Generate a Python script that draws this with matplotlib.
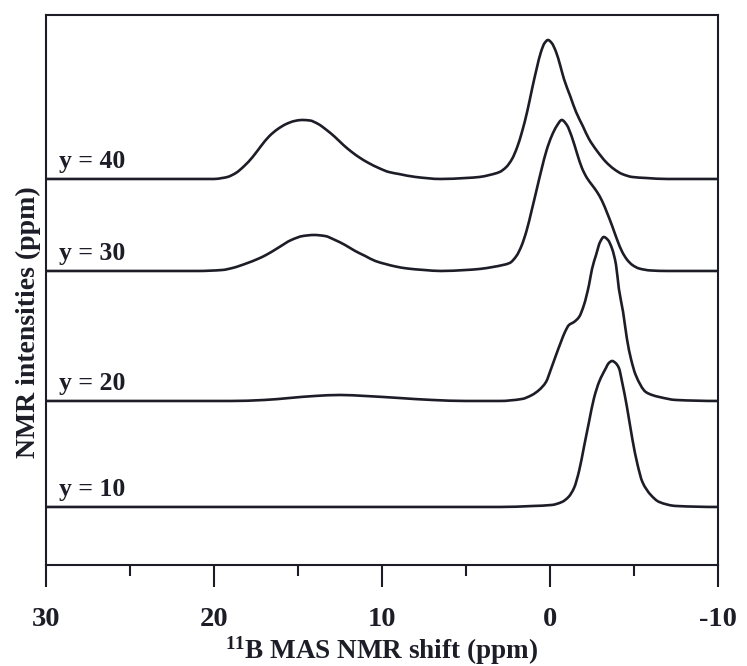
import matplotlib
matplotlib.use('Agg')
import matplotlib.pyplot as plt
from matplotlib.path import Path
from matplotlib.patches import PathPatch
from matplotlib.ticker import FixedLocator

# 11B MAS NMR spectra, stacked by composition (intensity in arbitrary units above each baseline)
labels = ['y = 10', 'y = 20', 'y = 30', 'y = 40']
offsets = [0.58, 1.64, 2.94, 3.86]

shift10 = [30, 10, 3, 1.0, -0.1, -0.71, -1.1, -1.43, -1.73, -2.02, -2.32, -2.62, -2.92,
           -3.33, -3.5, -3.7, -3.9, -4.1, -4.29, -4.58, -4.9, -5.2, -5.5, -6.0, -6.5, -7.5, -10]
int10 = [0, 0, 0, 0.01, 0.02, 0.05, 0.10, 0.19, 0.36, 0.60, 0.85, 1.09, 1.25,
         1.39, 1.44, 1.46, 1.44, 1.39, 1.25, 1.0, 0.68, 0.43, 0.25, 0.12, 0.05, 0.01, 0]

shift20 = [30, 19, 17, 15.5, 14, 12.5, 11, 9, 7, 5, 3, 1.67, 1.07, 0.65, 0.24, -0.06, -0.36,
           -0.65, -0.89, -1.13, -1.43, -1.73, -2.02, -2.32, -2.5, -2.74, -2.98, -3.2, -3.45,
           -3.7, -3.93, -4.1, -4.35, -4.58, -4.82, -5.1, -5.7, -6.07, -6.5, -7.5, -10]
int20 = [0, 0, 0.01, 0.03, 0.05, 0.06, 0.05, 0.03, 0.01, 0, 0, 0.02, 0.06, 0.11, 0.19, 0.32, 0.46,
         0.59, 0.69, 0.76, 0.79, 0.84, 0.96, 1.16, 1.32, 1.46, 1.59, 1.64, 1.61,
         1.52, 1.36, 1.12, 0.89, 0.62, 0.42, 0.26, 0.09, 0.06, 0.04, 0.01, 0]

shift30 = [30, 21, 19.5, 18.9, 18.0, 17.4, 16.9, 16.2, 15.4, 14.7, 14.05, 13.4, 12.8, 12.2,
           11.6, 11.0, 10.4, 9.8, 9.2, 8.5, 7.5, 6.5, 5.0, 4.2, 3.4, 2.8, 2.4, 2.0, 1.7, 1.4,
           1.1, 0.8, 0.5, 0.2, -0.1, -0.4, -0.7, -1.0, -1.3, -1.6, -1.9, -2.2, -2.5, -2.8,
           -3.1, -3.4, -3.7, -4.0, -4.3, -4.6, -4.9, -5.3, -6.0, -7, -10]
int30 = [0, 0, 0.01, 0.03, 0.08, 0.12, 0.16, 0.23, 0.31, 0.35, 0.36, 0.35, 0.31, 0.26,
         0.20, 0.15, 0.10, 0.07, 0.045, 0.025, 0.01, 0, 0.01, 0.02, 0.04, 0.06, 0.08, 0.15,
         0.25, 0.40, 0.60, 0.81, 1.02, 1.21, 1.35, 1.45, 1.51, 1.46, 1.34, 1.18, 1.03, 0.93,
         0.86, 0.79, 0.70, 0.58, 0.45, 0.31, 0.19, 0.11, 0.06, 0.025, 0.005, 0, 0]

shift40 = [30, 21, 20.0, 19.5, 19.2, 18.7, 18.2, 17.7, 17.2, 16.7, 16.2, 15.7, 15.2, 14.76,
           14.3, 13.8, 13.3, 12.8, 12.3, 11.8, 11.3, 10.8, 10.2, 9.6, 9.0, 8.0, 6.5, 5.0,
           4.2, 3.6, 3.0, 2.6, 2.26, 1.95, 1.67, 1.35, 1.07, 0.8, 0.54, 0.32, 0.12, -0.1,
           -0.36, -0.6, -0.83, -1.2, -1.55, -1.95, -2.32, -2.8, -3.33, -3.8, -4.29, -4.9,
           -5.7, -7, -10]
int40 = [0, 0, 0, 0.01, 0.02, 0.06, 0.13, 0.22, 0.33, 0.43, 0.50, 0.55, 0.58, 0.59,
         0.585, 0.55, 0.49, 0.42, 0.34, 0.27, 0.21, 0.16, 0.11, 0.07, 0.05, 0.02, 0.0, 0.01,
         0.02, 0.04, 0.07, 0.12, 0.2, 0.32, 0.47, 0.68, 0.9, 1.1, 1.27, 1.36, 1.39, 1.36,
         1.27, 1.14, 1.0, 0.83, 0.67, 0.53, 0.40, 0.28, 0.17, 0.1, 0.05, 0.02,
         0.01, 0, 0]

major_ticks = [30, 20, 10, 0, -10]
major_labels = ['30', '20', '10', '0', '-10']
minor_ticks = [25, 15, 5, -5]

plt.rcParams['font.family'] = ['Liberation Serif', 'DejaVu Serif']
plt.rcParams['font.weight'] = 'bold'
plt.rcParams['mathtext.fontset'] = 'custom'
plt.rcParams['mathtext.rm'] = 'Liberation Serif:bold'
plt.rcParams['mathtext.it'] = 'Liberation Serif:bold'
plt.rcParams['mathtext.bf'] = 'Liberation Serif:bold'

INK = '#1d1d28'


def smooth_path(xs, ys):
    """Smoothed line through the points: cubic Hermite segments as Bezier curves."""
    n = len(xs)
    h = [xs[i + 1] - xs[i] for i in range(n - 1)]
    d = [(ys[i + 1] - ys[i]) / h[i] for i in range(n - 1)]
    m = [0.0] * n
    for i in range(1, n - 1):
        if d[i - 1] * d[i] <= 0:
            m[i] = 0.0
        else:
            w1 = 2 * h[i] + h[i - 1]
            w2 = h[i] + 2 * h[i - 1]
            m[i] = (w1 + w2) / (w1 / d[i - 1] + w2 / d[i])
    verts = [(xs[0], ys[0])]
    codes = [Path.MOVETO]
    for i in range(n - 1):
        verts += [(xs[i] + h[i] / 3, ys[i] + m[i] * h[i] / 3),
                  (xs[i + 1] - h[i] / 3, ys[i + 1] - m[i + 1] * h[i] / 3),
                  (xs[i + 1], ys[i + 1])]
        codes += [Path.CURVE4] * 3
    return Path(verts, codes)


fig = plt.figure(figsize=(7.47, 6.66), dpi=100)
ax = fig.add_axes([0.0616, 0.1517, 0.8996, 0.8258])

spectra = [(shift10, int10), (shift20, int20), (shift30, int30), (shift40, int40)]
for (sx, sy), off, lab in zip(spectra, offsets, labels):
    path = smooth_path(sx, [off + v for v in sy])
    ax.add_patch(PathPatch(path, fill=False, edgecolor=INK, lw=1.9,
                           joinstyle='round', capstyle='round'))
    ax.text(29.2, off + 0.11, lab, fontsize=18.5, fontweight='bold', color=INK,
            ha='left', va='baseline')

ax.set_xlim(30, -10)
ax.set_ylim(0, 5.5)

ax.xaxis.set_major_locator(FixedLocator(major_ticks))
ax.set_xticklabels(major_labels)
ax.xaxis.set_minor_locator(FixedLocator(minor_ticks))
ax.tick_params(axis='x', which='major', direction='out', length=16, width=1.5,
               color=INK, labelsize=20.5, labelcolor=INK, pad=14)
ax.tick_params(axis='x', which='minor', direction='out', length=8, width=1.5, color=INK)
ax.tick_params(axis='y', left=False, labelleft=False)

for spine in ax.spines.values():
    spine.set_linewidth(1.5)
    spine.set_edgecolor(INK)

ax.set_xlabel(r'$^{11}$B MAS NMR shift (ppm)', fontsize=19.5, fontweight='bold',
              color=INK, labelpad=2)
ax.set_ylabel('NMR intensities (ppm)', fontsize=20, fontweight='bold', color=INK)
ax.yaxis.set_label_coords(-0.008, 0.442)

fig.savefig('out.png', dpi=100)
